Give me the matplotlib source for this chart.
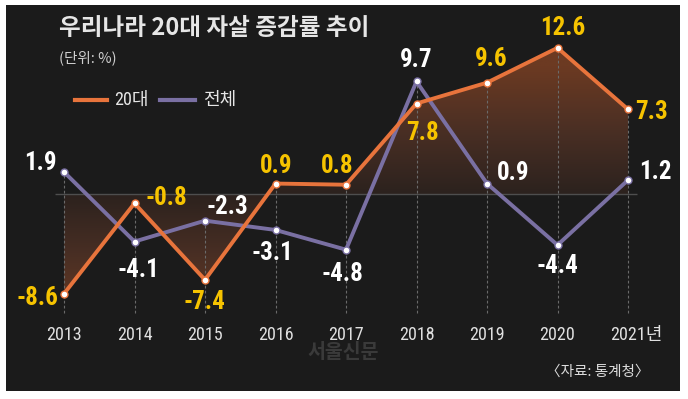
import numpy as np
import matplotlib
matplotlib.use("Agg")
import matplotlib.pyplot as plt
from matplotlib import font_manager as fm
from matplotlib.patches import Rectangle
from matplotlib.lines import Line2D
from matplotlib.colors import LinearSegmentedColormap

# ---------------- data ----------------
years = [2013, 2014, 2015, 2016, 2017, 2018, 2019, 2020, 2021]
year_labels = ["2013", "2014", "2015", "2016", "2017", "2018", "2019", "2020", "2021년"]
rate_20s = [-8.6, -0.8, -7.4, 0.9, 0.8, 7.8, 9.6, 12.6, 7.3]
rate_all = [1.9, -4.1, -2.3, -3.1, -4.8, 9.7, 0.9, -4.4, 1.2]
series_names = ["20대", "전체"]
title = "우리나라 20대 자살 증감률 추이"
unit = "(단위: %)"
source = "〈자료: 통계청〉"

# ---------------- fonts ----------------
avail = {f.name for f in fm.fontManager.ttflist}
def pick(cands):
    for c in cands:
        if c in avail:
            return c
    return "DejaVu Sans"
NUM = pick(["Roboto Condensed", "Archivo Narrow", "PT Sans Narrow", "Liberation Sans", "DejaVu Sans"])
KR = "Noto Sans CJK KR"
KRF = [KR, "DejaVu Sans"]
NUMKR = [NUM, KR, "DejaVu Sans"]

W, H = 688, 399
fig = plt.figure(figsize=(W / 100, H / 100), dpi=100, facecolor="white")

def fx(x):
    return x / W
def fy(y):
    return 1 - y / H

# dark panel
fig.patches.append(Rectangle((fx(6), fy(391)), fx(680) - fx(6), fy(5) - fy(391),
                             transform=fig.transFigure, facecolor="#1b1b1b",
                             edgecolor="none", zorder=-10))

# watermark
fig.text(fx(343), fy(353), "서울신문", ha="center", va="center", color="#3a3a3a",
         fontsize=14, fontweight="bold", family=KRF, zorder=-5)

ax = fig.add_axes([0, 0, 1, 1])
ax.set_facecolor("none")
ax.set_zorder(1)
ppx = 70.5
ppy = 11.6
x0, y0 = 64, 194
ax.axis("off")

ORANGE = "#e8743c"
PURPLE = "#7a70a3"
YELLOW = "#f6c300"

# gradient fill between 20s line and zero
poly = ax.fill_between(years, rate_20s, 0, facecolor="none", edgecolor="none")
yy = np.linspace(-10, 14, 300)
t = np.clip(np.abs(yy) / 11.0, 0, 1)
img = t[:, None] * np.ones((1, 10))
cmap = LinearSegmentedColormap.from_list("g", ["#2c221e", "#4a2f24", "#6c3a22"])
im = ax.imshow(img, extent=[years[0], years[-1], -10, 14], origin="lower",
               cmap=cmap, vmin=0, vmax=1, aspect="auto", zorder=1,
               interpolation="bilinear")
im.set_clip_path(poly.get_paths()[0], transform=ax.transData)
ax.set_xlim(2013 - x0 / ppx, 2013 + (W - x0) / ppx)
ax.set_ylim((y0 - H) / ppy, y0 / ppy)

# zero line
ax.hlines(0, years[0] - 0.13, years[-1] + 0.13, color="#4e4e4e", lw=1.0, zorder=2)

# dashed verticals
bottom = (y0 - 313) / ppy
tops = [max(a, b) for a, b in zip(rate_20s, rate_all)]
ax.vlines(years, bottom, tops, colors="#6a6a6a", lw=0.8, linestyles=(0, (2.5, 2)), zorder=2)

# lines
ax.plot(years, rate_all, color=PURPLE, lw=2.8, zorder=4, solid_joinstyle="miter",
        marker="o", ms=5, mfc="white", mec=PURPLE, mew=1.0)
ax.plot(years, rate_20s, color=ORANGE, lw=2.8, zorder=5, solid_joinstyle="miter",
        marker="o", ms=5, mfc="white", mec=ORANGE, mew=1.0)

# value labels
off_20 = [(-27, -4), (32, 5), (-1, -22), (1, 18), (-9, 19), (6, -29), (4, 24), (5, 20), (24, -3)]
off_all = [(-24, 9), (4, -28), (22, 14), (-3, -23), (-4, -24), (0, 21), (26, 11), (0, -21), (27, 8)]
for x, v, (dx, dy) in zip(years, rate_20s, off_20):
    ax.annotate(f"{v:.1f}", (x, v), xytext=(dx, dy), textcoords="offset pixels",
                ha="center", va="center", color=YELLOW, fontsize=18,
                fontweight="bold", family=NUM, zorder=6)
for x, v, (dx, dy) in zip(years, rate_all, off_all):
    ax.annotate(f"{v:.1f}", (x, v), xytext=(dx, dy), textcoords="offset pixels",
                ha="center", va="center", color="white", fontsize=18,
                fontweight="bold", family=NUM, zorder=6)

# year labels
for x, lab in zip(years, year_labels):
    dx = 8 if lab.endswith("년") else 0
    ax.annotate(lab, (x, bottom), xytext=(dx, -22), textcoords="offset pixels",
                ha="center", va="center", color="#e0e0e0", fontsize=13,
                family=NUMKR)

# title, unit
fig.text(fx(59), fy(28), title, ha="left", va="center", color="#e6e6e6",
         fontsize=17, fontweight="bold", family=KRF)
fig.text(fx(59), fy(58), unit, ha="left", va="center", color="#cfcfcf",
         fontsize=10.5, family=KRF)

# legend
for (xa, xb, col, name, xt) in [(75, 107, ORANGE, series_names[0], 114),
                                 (160, 195, PURPLE, series_names[1], 203)]:
    fig.add_artist(Line2D([fx(xa), fx(xb)], [fy(100), fy(100)], color=col, lw=3,
                          transform=fig.transFigure))
    fig.text(fx(xt), fy(100), name, ha="left", va="center", color="#e6e6e6",
             fontsize=13, family=[NUM, KR])

# source
fig.text(fx(650), fy(372), source, ha="right", va="center", color="#dcdcdc",
         fontsize=10.5, family=KRF)

fig.savefig("out.png", dpi=100, facecolor="white")
